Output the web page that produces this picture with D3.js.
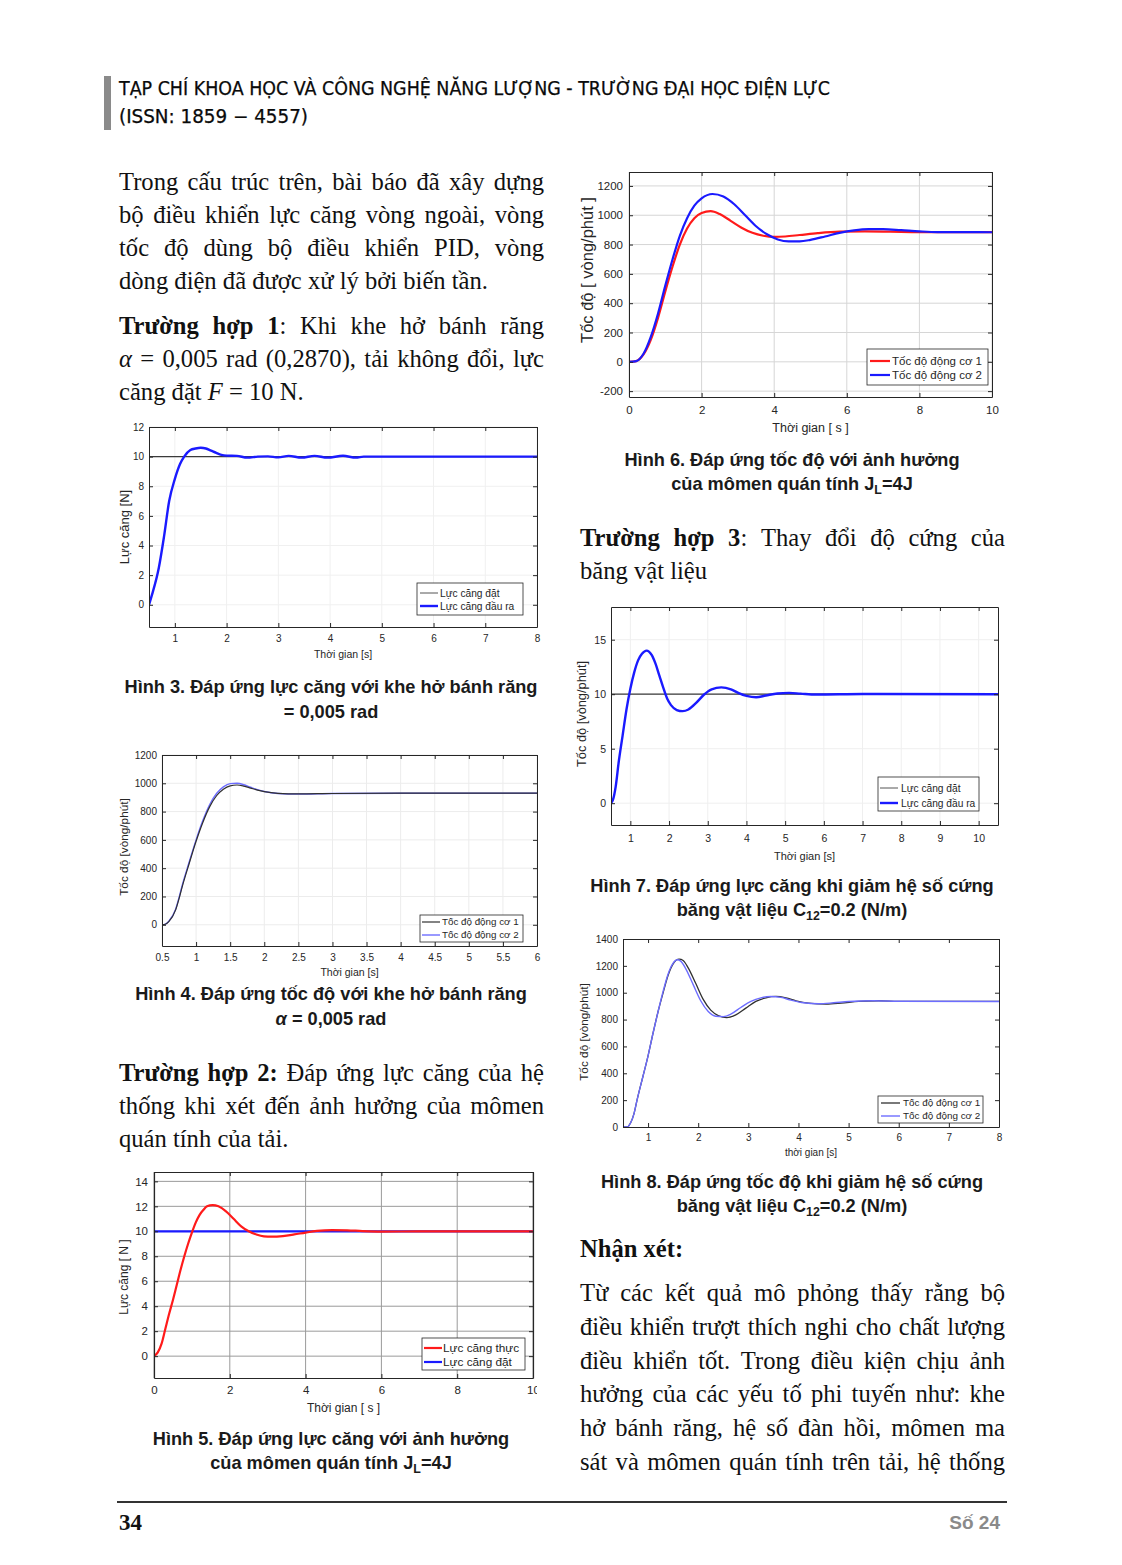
<!DOCTYPE html>
<html><head><meta charset="utf-8">
<script src="https://cdn.jsdelivr.net/npm/d3@7"></script>
<style>body{margin:0;background:#fff}svg{display:block}</style>
</head><body>
<svg id="page" width="1122" height="1565"></svg>
<script>
// ---------- DATA ----------
// Hình 3
const fig3_t   = [0.5,0.56,0.69,0.79,0.89,1.0,1.1,1.18,1.3,1.4,1.5,1.6,1.7,1.8,1.9,2.0,2.2,2.4,2.6,2.8,3.0,3.2,3.45,3.7,3.95,4.25,4.5,4.65,8];
const fig3_out = [0,0.7,2.5,4.6,7.0,8.5,9.5,10.0,10.45,10.55,10.6,10.55,10.4,10.25,10.12,10.07,10.05,9.93,10.0,10.02,9.95,10.05,9.93,10.05,9.93,10.06,9.93,10.0,10];
const fig3_set_t = [0.5,8];
const fig3_set   = [10,10];
// Hình 4
const fig4_t  = [0.5,0.55,0.6,0.7,0.75,0.8,0.9,1.0,1.1,1.2,1.3,1.4,1.5,1.6,1.7,1.8,1.9,2.0,2.2,2.5,3.0,4.0,5.0,6.0];
const fig4_m1 = [0,4,22,105,185,275,435,590,725,835,912,958,982,988,980,966,952,941,929,925,928,930,930,930];
const fig4_m2 = [0,5,25,110,192,285,445,600,738,850,928,975,998,1000,990,972,955,942,928,924,928,930,930,930];
// Hình 5
const fig5_t    = [0,0.1,0.2,0.3,0.4,0.5,0.6,0.7,0.8,0.9,1.0,1.1,1.2,1.3,1.4,1.55,1.7,1.9,2.1,2.3,2.5,2.7,2.9,3.1,3.4,3.7,4.0,4.3,4.7,5.1,5.5,6,7,10];
const fig5_real = [0,0.3,1.0,2.2,3.4,4.5,5.7,6.9,8.0,9.0,9.9,10.7,11.3,11.7,12.0,12.1,12.0,11.6,11.0,10.4,10.0,9.75,9.6,9.57,9.62,9.75,9.9,10.03,10.1,10.08,10.02,9.98,9.99,10];
const fig5_set_t = [0,10];
const fig5_set   = [10,10];
// Hình 6
const fig6_t1 = [0,0.2,0.4,0.6,0.8,1.0,1.2,1.4,1.6,1.8,2.0,2.25,2.5,2.8,3.1,3.4,3.7,4.0,4.3,4.7,5.2,5.8,6.5,7.2,8,10];
const fig6_m1 = [0,5,50,150,300,480,650,800,910,980,1015,1028,1008,962,915,880,860,852,855,865,878,888,890,888,885,885];
const fig6_t2 = [0,0.2,0.4,0.6,0.8,1.0,1.2,1.4,1.6,1.8,2.0,2.3,2.6,2.9,3.2,3.5,3.8,4.1,4.4,4.7,5.0,5.4,5.8,6.2,6.6,7.0,7.5,8,8.5,10];
const fig6_m2 = [0,5,55,170,330,520,700,860,980,1065,1115,1145,1128,1075,1000,925,870,835,822,822,832,855,880,897,905,905,898,890,885,884];
// Hình 7
const fig7_t   = [0.5,0.55,0.62,0.7,0.8,0.9,1.0,1.1,1.2,1.3,1.42,1.55,1.65,1.75,1.85,1.95,2.05,2.2,2.35,2.5,2.7,2.9,3.1,3.35,3.6,3.8,4.0,4.25,4.5,4.8,5.1,5.4,5.8,7,10.5];
const fig7_out = [0,0.3,1.5,3.8,6.2,8.6,10.5,12.0,13.1,13.7,14.0,13.6,12.8,11.7,10.6,9.6,9.0,8.55,8.45,8.6,9.2,9.95,10.45,10.63,10.45,10.1,9.85,9.72,9.88,10.07,10.12,10.05,9.97,10.02,10];
const fig7_set_t = [0.5,10.5];
const fig7_set   = [10,10];
// Hình 8
const fig8_t1 = [0.5,0.58,0.65,0.72,0.78,0.9,1.0,1.1,1.2,1.3,1.4,1.5,1.62,1.7,1.8,1.95,2.1,2.25,2.4,2.57,2.75,2.95,3.15,3.35,3.55,3.75,3.95,4.2,4.55,4.85,5.2,5.6,6,8];
const fig8_m1 = [0,0,30,100,200,380,530,700,860,1000,1130,1215,1250,1240,1185,1070,950,870,830,815,835,885,935,962,972,962,940,922,915,922,935,940,936,935];
const fig8_t2 = [0.5,0.58,0.65,0.72,0.78,0.9,1.0,1.1,1.2,1.3,1.4,1.5,1.58,1.65,1.75,1.9,2.05,2.2,2.35,2.5,2.65,2.85,3.05,3.25,3.45,3.65,3.85,4.1,4.4,4.7,5.0,5.5,6,8];
const fig8_m2 = [0,0,30,100,200,380,530,700,860,1010,1140,1220,1245,1235,1180,1060,940,860,825,822,840,890,935,962,972,965,945,925,918,925,935,940,936,935];

// ---------- SETUP ----------
const svg = d3.select('#page');
const SANS = "'Liberation Sans', Arial, Helvetica, sans-serif";
const SERIF = "'Liberation Serif', 'Times New Roman', serif";
const NARROW = "'Liberation Sans Narrow','Arial Narrow','DejaVu Sans Condensed',sans-serif";
const defs = svg.append('defs');
const rng = (a, b, s) => d3.range(a, b + s / 2, s).map(v => +v.toFixed(3));

// header
svg.append('rect').attr('x', 104).attr('y', 76).attr('width', 7).attr('height', 54).attr('fill', '#8a8a8a');
svg.append('text').attr('x', 119).attr('y', 95).attr('font-family', NARROW)
  .attr('font-size', 19).attr('fill', '#0a0a0a').attr('stroke', '#0a0a0a').attr('stroke-width', 0.25)
  .attr('textLength', 711).attr('lengthAdjust', 'spacingAndGlyphs')
  .text('TẠP CHÍ KHOA HỌC VÀ CÔNG NGHỆ NĂNG LƯỢNG - TRƯỜNG ĐẠI HỌC ĐIỆN LỰC');
svg.append('text').attr('x', 119).attr('y', 123).attr('font-family', NARROW)
  .attr('font-size', 19).attr('fill', '#0a0a0a').attr('stroke', '#0a0a0a').attr('stroke-width', 0.25)
  .attr('textLength', 189).attr('lengthAdjust', 'spacingAndGlyphs')
  .text('(ISSN: 1859 − 4557)');

// footer
svg.append('line').attr('x1', 117).attr('x2', 1007).attr('y1', 1502).attr('y2', 1502).attr('stroke', '#333').attr('stroke-width', 2);
svg.append('text').attr('x', 119).attr('y', 1530).attr('font-family', SERIF).attr('font-weight', 'bold').attr('font-size', 23).attr('fill', '#111').text('34');
svg.append('text').attr('x', 1000).attr('y', 1529).attr('text-anchor', 'end').attr('font-family', SANS).attr('font-weight', 'bold').attr('font-size', 19).attr('fill', '#8a8a8a').text('Số 24');

// ---------- PROSE ----------
const BODY = 24.6;
function drawLine(segs, x0, width, yb, justify) {
  const words = []; let cur = [];
  segs.forEach(s => {
    const parts = s.t.split(' ');
    parts.forEach((p, i) => {
      if (i > 0) { if (cur.length) words.push(cur); cur = []; }
      if (p.length) cur.push({ t: p, b: s.b, i: s.i });
    });
  });
  if (cur.length) words.push(cur);
  const els = words.map(w => {
    const t = svg.append('text').attr('y', yb).attr('font-family', SERIF).attr('font-size', BODY).attr('fill', '#111');
    w.forEach(s => t.append('tspan').text(s.t).attr('font-weight', s.b ? 'bold' : null).attr('font-style', s.i ? 'italic' : null));
    return t;
  });
  const widths = els.map(e => e.node().getComputedTextLength());
  const total = d3.sum(widths);
  const space = justify && words.length > 1 ? (width - total) / (words.length - 1) : BODY * 0.25;
  let x = x0;
  els.forEach((e, i) => { e.attr('x', x); x += widths[i] + space; });
}
function para(lines, x0, width, y0, lh, justifyAll) {
  lines.forEach((l, i) => drawLine(l, x0, width, y0 + i * lh, justifyAll || i < lines.length - 1));
}
const N = t => ({ t }), B = t => ({ t, b: 1 }), I = t => ({ t, i: 1 });

para([[N('Trong cấu trúc trên, bài báo đã xây dựng')],
      [N('bộ điều khiển lực căng vòng ngoài, vòng')],
      [N('tốc độ dùng bộ điều khiển PID, vòng')],
      [N('dòng điện đã được xử lý bởi biến tần.')]], 119, 425, 190, 33);
para([[B('Trường hợp 1'), N(': Khi khe hở bánh răng')],
      [I('α'), N(' = 0,005 rad (0,2870), tải không đổi, lực')],
      [N('căng đặt '), I('F'), N(' = 10 N.')]], 119, 425, 334, 33);
para([[B('Trường hợp 2:'), N(' Đáp ứng lực căng của hệ')],
      [N('thống khi xét đến ảnh hưởng của mômen')],
      [N('quán tính của tải.')]], 119, 425, 1081, 33);
para([[B('Trường hợp 3'), N(': Thay đổi độ cứng của')],
      [N('băng vật liệu')]], 580, 425, 546, 33);
para([[B('Nhận xét:')]], 580, 425, 1257, 33);
para([[N('Từ các kết quả mô phỏng thấy rằng bộ')],
      [N('điều khiển trượt thích nghi cho chất lượng')],
      [N('điều khiển tốt. Trong điều kiện chịu ảnh')],
      [N('hưởng của các yếu tố phi tuyến như: khe')],
      [N('hở bánh răng, hệ số đàn hồi, mômen ma')],
      [N('sát và mômen quán tính trên tải, hệ thống')]], 580, 425, 1301, 33.8, true);

// ---------- CAPTIONS ----------
const CAP = 18.2;
function caption(cx, y, segs) {
  const t = svg.append('text').attr('x', cx).attr('y', y).attr('text-anchor', 'middle')
    .attr('font-family', SANS).attr('font-weight', 'bold').attr('font-size', CAP).attr('fill', '#1a1a1a');
  segs.forEach(s => {
    const ts = t.append('tspan').text(s.t);
    if (s.i) ts.attr('font-style', 'italic');
    if (s.sub) ts.attr('font-size', CAP * 0.68).attr('dy', 4);
    if (s.up) ts.attr('dy', -4);
  });
}
caption(331, 693, [{ t: 'Hình 3. Đáp ứng lực căng với khe hở bánh răng' }]);
caption(331, 718, [{ t: '= 0,005 rad' }]);
caption(331, 1000, [{ t: 'Hình 4. Đáp ứng tốc độ với khe hở bánh răng' }]);
caption(331, 1025, [{ t: 'α', i: 1 }, { t: ' = 0,005 rad' }]);
caption(331, 1445, [{ t: 'Hình 5. Đáp ứng lực căng với ảnh hưởng' }]);
caption(331, 1469, [{ t: 'của mômen quán tính J' }, { t: 'L', sub: 1 }, { t: '=4J', up: 1 }]);
caption(792, 466, [{ t: 'Hình 6. Đáp ứng tốc độ với ảnh hưởng' }]);
caption(792, 490, [{ t: 'của mômen quán tính J' }, { t: 'L', sub: 1 }, { t: '=4J', up: 1 }]);
caption(792, 892, [{ t: 'Hình 7. Đáp ứng lực căng khi giảm hệ số cứng' }]);
caption(792, 916, [{ t: 'băng vật liệu C' }, { t: '12', sub: 1 }, { t: '=0.2 (N/m)', up: 1 }]);
caption(792, 1188, [{ t: 'Hình 8. Đáp ứng tốc độ khi giảm hệ số cứng' }]);
caption(792, 1212, [{ t: 'băng vật liệu C' }, { t: '12', sub: 1 }, { t: '=0.2  (N/m)', up: 1 }]);

// ---------- CHARTS ----------
let clipId = 0;
function chart(c) {
  const g = svg.append('g');
  if (c.clipR) {
    const id = 'cr' + (clipId++);
    defs.append('clipPath').attr('id', id).append('rect').attr('x', 0).attr('y', 0).attr('width', c.clipR).attr('height', 1565);
    g.attr('clip-path', `url(#${id})`);
  }
  const x = d3.scaleLinear().domain(c.xd).range([c.L, c.R]);
  const y = d3.scaleLinear().domain(c.yd).range([c.B, c.T]);
  g.append('rect').attr('x', c.L).attr('y', c.T).attr('width', c.R - c.L).attr('height', c.B - c.T).attr('fill', '#fff');
  if (c.grid) {
    g.selectAll(null).data(c.xt).join('line').attr('x1', d => x(d)).attr('x2', d => x(d)).attr('y1', c.T).attr('y2', c.B)
      .attr('stroke', c.grid).attr('stroke-width', c.gridW || 1);
    g.selectAll(null).data(c.yt).join('line').attr('y1', d => y(d)).attr('y2', d => y(d)).attr('x1', c.L).attr('x2', c.R)
      .attr('stroke', c.grid).attr('stroke-width', c.gridW || 1);
  }
  const id = 'pc' + (clipId++);
  defs.append('clipPath').attr('id', id).append('rect').attr('x', c.L).attr('y', c.T).attr('width', c.R - c.L).attr('height', c.B - c.T);
  const pg = g.append('g').attr('clip-path', `url(#${id})`);
  c.series.forEach(s => {
    const line = d3.line().x(d => x(d[0])).y(d => y(d[1])).curve(d3.curveMonotoneX);
    pg.append('path').attr('d', line(d3.zip(s.t, s.v))).attr('fill', 'none').attr('stroke', s.color).attr('stroke-width', s.w)
      .attr('stroke-linejoin', 'round');
  });
  const fs = c.fs;
  const fmt = d => String(d);
  const ax = (gen, tr) => g.append('g').attr('transform', tr).call(gen)
    .call(a => a.select('.domain').attr('stroke', c.axisColor || '#262626').attr('stroke-width', c.axisW || 1))
    .call(a => a.selectAll('.tick line').attr('stroke', c.axisColor || '#262626'))
    .call(a => a.selectAll('text').attr('font-family', SANS).attr('font-size', fs).attr('fill', '#262626'));
  ax(d3.axisBottom(x).tickValues(c.xt).tickFormat(fmt).tickSizeInner(-4).tickSizeOuter(0).tickPadding(c.xPad), `translate(0,${c.B})`);
  ax(d3.axisTop(x).tickValues(c.xt).tickFormat('').tickSizeInner(-4).tickSizeOuter(0), `translate(0,${c.T})`);
  ax(d3.axisLeft(y).tickValues(c.yt).tickFormat(fmt).tickSizeInner(-4).tickSizeOuter(0).tickPadding(c.yPad), `translate(${c.L},0)`);
  ax(d3.axisRight(y).tickValues(c.yt).tickFormat('').tickSizeInner(-4).tickSizeOuter(0), `translate(${c.R},0)`);
  // axis labels
  g.append('text').attr('x', (c.L + c.R) / 2 + (c.xlDx || 0)).attr('y', c.xlY).attr('text-anchor', 'middle')
    .attr('font-family', SANS).attr('font-size', c.lfs).attr('fill', '#262626').text(c.xlabel);
  g.append('text').attr('transform', `translate(${c.ylX},${c.ylY}) rotate(-90)`).attr('text-anchor', 'middle')
    .attr('font-family', SANS).attr('font-size', c.ylfs || c.lfs).attr('fill', '#262626').text(c.ylabel);
  // legend
  const lg = c.legend;
  g.append('rect').attr('x', lg.x).attr('y', lg.y).attr('width', lg.w).attr('height', lg.h).attr('fill', '#fff')
    .attr('stroke', '#262626').attr('stroke-width', 0.8);
  lg.items.forEach((it, i) => {
    const yy = lg.y0 + i * lg.dy;
    g.append('line').attr('x1', lg.lx0).attr('x2', lg.lx1).attr('y1', yy).attr('y2', yy).attr('stroke', it.color).attr('stroke-width', it.w);
    g.append('text').attr('x', lg.tx).attr('y', yy).attr('dy', '0.35em').attr('font-family', SANS).attr('font-size', lg.fs)
      .attr('fill', '#262626').text(it.label);
  });
  return { g, x, y };
}

const BLUE = '#1a1aff', RED = '#ff1a1a', DARK = '#303030', LBLUE = '#6d6dff';

function base(c) {
  c.xPad = c.xtB - c.B - 0.71 * c.fs;
  return chart(c);
}

base({
  L: 149, R: 537, T: 427, B: 627, xd: [0.5, 8], yd: [-1.5, 12], xt: rng(1, 8, 1), yt: rng(0, 12, 2),
  fs: 10, xtB: 642, yPad: 5, lfs: 10.5, ylfs: 13, xlabel: 'Thời gian [s]', xlY: 658, ylabel: 'Lực căng [N]', ylX: 129, ylY: 527,
  grid: '#f0f0f0',
  series: [{ t: fig3_set_t, v: fig3_set, color: '#3a3a3a', w: 1.2 }, { t: fig3_t, v: fig3_out, color: BLUE, w: 2.4 }],
  legend: { x: 417, y: 583, w: 106, h: 32, y0: 593, dy: 13, lx0: 420, lx1: 438, tx: 440, fs: 10.2,
    items: [{ label: 'Lực căng đặt', color: '#555', w: 1 }, { label: 'Lực căng đầu ra', color: BLUE, w: 2.4 }] }
});
base({
  L: 162, R: 537, T: 755, B: 946, xd: [0.5, 6], yd: [-150, 1200], xt: rng(0.5, 6, 0.5), yt: rng(0, 1200, 200),
  fs: 10, xtB: 961, yPad: 5, lfs: 10.5, ylfs: 11.8, xlabel: 'Thời gian [s]', xlY: 976, ylabel: 'Tốc độ [vòng/phút]', ylX: 128, ylY: 847,
  grid: '#ececec',
  series: [{ t: fig4_t, v: fig4_m2, color: LBLUE, w: 1.4 }, { t: fig4_t, v: fig4_m1, color: DARK, w: 1.2 }],
  legend: { x: 420, y: 915, w: 103, h: 27, y0: 922, dy: 13, lx0: 422, lx1: 440, tx: 442, fs: 9.8,
    items: [{ label: 'Tốc độ động cơ 1', color: DARK, w: 1.2 }, { label: 'Tốc độ động cơ 2', color: LBLUE, w: 1.4 }] }
});
base({
  L: 154, R: 533, T: 1172, B: 1378, xd: [0, 10], yd: [-1.75, 14.75], xt: rng(0, 10, 2), yt: rng(0, 14, 2),
  fs: 11.5, xtB: 1394, yPad: 6, lfs: 12, xlabel: 'Thời gian [ s ]', xlY: 1412, ylabel: 'Lực căng [ N ]', ylX: 128, ylY: 1277,
  grid: '#9a9a9a', clipR: 537, axisW: 1.2,
  series: [{ t: fig5_set_t, v: fig5_set, color: BLUE, w: 2.2 }, { t: fig5_t, v: fig5_real, color: RED, w: 2.2 }],
  legend: { x: 422, y: 1338, w: 103, h: 32, y0: 1348, dy: 14, lx0: 424, lx1: 442, tx: 443, fs: 11.8,
    items: [{ label: 'Lực căng thực', color: RED, w: 2.2 }, { label: 'Lực căng đặt', color: BLUE, w: 2.2 }] }
});
base({
  L: 629, R: 992, T: 172, B: 397, xd: [0, 10], yd: [-240, 1295], xt: rng(0, 10, 2), yt: rng(-200, 1200, 200),
  fs: 11.5, xtB: 414, yPad: 6, lfs: 12.5, ylfs: 16.5, xlabel: 'Thời gian [ s ]', xlY: 432, ylabel: 'Tốc độ [ vòng/phút ]', ylX: 593, ylY: 270,
  grid: '#d6d6d6', clipR: 1000,
  series: [{ t: fig6_t1, v: fig6_m1, color: RED, w: 2.2 }, { t: fig6_t2, v: fig6_m2, color: BLUE, w: 2.2 }],
  legend: { x: 867, y: 349, w: 121, h: 36, y0: 361, dy: 14, lx0: 870, lx1: 890, tx: 892, fs: 11.5,
    items: [{ label: 'Tốc độ động cơ 1', color: RED, w: 2.2 }, { label: 'Tốc độ động cơ 2', color: BLUE, w: 2.2 }] }
});
base({
  L: 611, R: 998, T: 607, B: 825, xd: [0.5, 10.5], yd: [-2, 18], xt: rng(1, 10, 1), yt: [0, 5, 10, 15],
  fs: 10.5, xtB: 842, yPad: 5, lfs: 11, ylfs: 12.8, xlabel: 'Thời gian [s]', xlY: 860, ylabel: 'Tốc độ [vòng/phút]', ylX: 586, ylY: 714,
  grid: '#efefef',
  series: [{ t: fig7_set_t, v: fig7_set, color: '#3a3a3a', w: 1.2 }, { t: fig7_t, v: fig7_out, color: BLUE, w: 2.4 }],
  legend: { x: 878, y: 777, w: 101, h: 34, y0: 788, dy: 15, lx0: 880, lx1: 898, tx: 901, fs: 10.2,
    items: [{ label: 'Lực căng đặt', color: '#555', w: 1 }, { label: 'Lực căng đầu ra', color: BLUE, w: 2.4 }] }
});
base({
  L: 623, R: 999, T: 939, B: 1127, xd: [0.5, 8], yd: [0, 1400], xt: rng(1, 8, 1), yt: rng(0, 1400, 200),
  fs: 10, xtB: 1141, yPad: 5, lfs: 10, ylfs: 11.8, xlabel: 'thời gian [s]', xlY: 1156, ylabel: 'Tốc độ [vòng/phút]', ylX: 588, ylY: 1032,
  grid: null,
  series: [{ t: fig8_t1, v: fig8_m1, color: DARK, w: 1.3 }, { t: fig8_t2, v: fig8_m2, color: LBLUE, w: 1.4 }],
  legend: { x: 878, y: 1096, w: 105, h: 27, y0: 1103, dy: 13, lx0: 881, lx1: 900, tx: 903, fs: 9.9,
    items: [{ label: 'Tốc độ động cơ 1', color: DARK, w: 1.3 }, { label: 'Tốc độ động cơ 2', color: LBLUE, w: 1.4 }] }
});
// vertical centering of left tick labels, baseline alignment of bottom labels
svg.selectAll('.tick text').each(function () {
  const t = d3.select(this);
  if (t.attr('x') !== null && +t.attr('x') < 0) t.attr('dy', '0.32em');
  else if (+t.attr('y') > 0) t.attr('dy', '0.71em');
});
</script>
</body></html>
